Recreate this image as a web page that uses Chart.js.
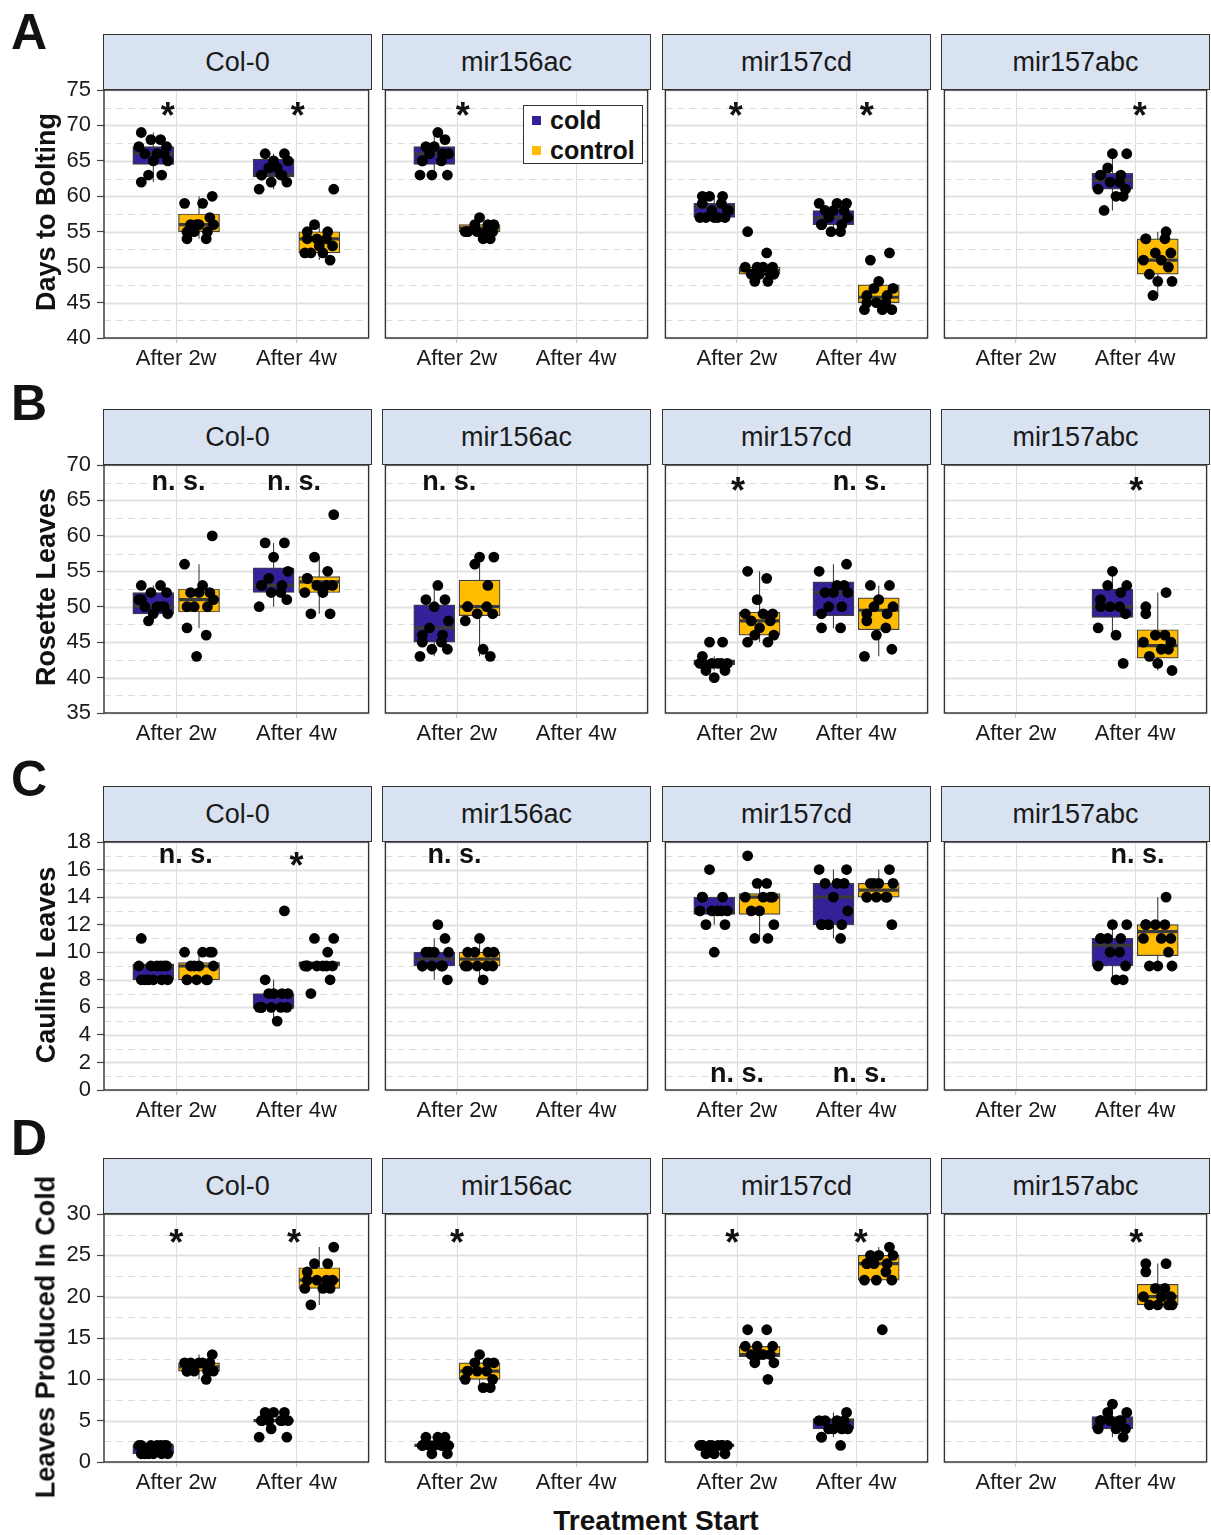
<!DOCTYPE html>
<html>
<head>
<meta charset="utf-8">
<script src="https://cdn.jsdelivr.net/npm/chart.js@4.4.0/dist/chart.umd.min.js"></script>
<style>
  body { margin: 0; background: #fff; font-family: "Liberation Sans", Arial, sans-serif; color: #111; }
  #fig { position: relative; width: 1211px; height: 1535px; overflow: hidden; background: #fff; }
  canvas { position: absolute; }
  .strip { position: absolute; box-sizing: border-box; height: 56px; background: #d9e2f1; border: 1.5px solid #333;
           font-size: 27px; color: #1a1a1a; display: flex; align-items: center; justify-content: center; }
  .letter { position: absolute; left: 11px; font-weight: bold; font-size: 50px; line-height: 50px; }
  .ytitle { position: absolute; font-weight: bold; font-size: 27px; line-height: 27px; white-space: nowrap;
            transform: translate(-50%, -50%) rotate(-90deg); }
  #xtitle { position: absolute; left: 656px; top: 1507px; transform: translateX(-50%); font-weight: bold;
            font-size: 28px; line-height: 28px; white-space: nowrap; }
  #legend { position: absolute; left: 523px; top: 105px; width: 120px; height: 59px; box-sizing: border-box;
            border: 1.5px solid #333; background: #fff; }
  .li { position: absolute; left: 8px; height: 28px; line-height: 28px; font-weight: bold; font-size: 25px;
        display: flex; align-items: center; }
  .sw { display: inline-block; width: 9px; height: 9px; margin-right: 9px; }
</style>
</head>
<body>
<div id="fig"></div>
<script>
// ---- data ----
const genotypes = ['Col-0', 'mir156ac', 'mir157cd', 'mir157abc'];
const timeLabels = ['After 2w', 'After 4w'];
const treatments = ['cold', 'control'];
// box slots: cold 2w, control 2w, cold 4w, control 4w
const groupX = [0.81, 1.19, 1.81, 2.19];
const groupTreatment = [0, 1, 0, 1];
const jitter = [-0.1, 0.06, -0.02, 0.11, -0.12, 0.03, 0.09, -0.07, 0.0, 0.12, -0.04, 0.07, -0.1];

// A: days to bolting
const boltingPoints = [
  [[69, 68, 68, 67, 67, 66, 66, 66, 65, 65, 63, 63, 62], [60, 59, 59, 57, 56, 56, 56, 55, 55, 55, 54, 54, 56],
   [66, 66, 65, 65, 64, 63, 63, 63, 63, 62, 62, 61, 64], [61, 56, 55, 55, 54, 54, 54, 53, 52, 52, 51, 52, 53]],
  [[69, 68, 67, 67, 66, 66, 66, 65, 65, 65, 63, 63, 63], [57, 56, 56, 56, 55, 55, 55, 55, 55, 55, 54, 54], null, null],
  [[60, 60, 60, 59, 59, 58, 58, 57, 57, 57, 57, 57, 58], [55, 52, 50, 50, 50, 50, 49, 49, 49, 49, 48, 48],
   [59, 59, 59, 58, 58, 58, 57, 57, 56, 56, 56, 55, 55], [52, 51, 48, 47, 47, 46, 46, 45, 45, 45, 44, 44, 44]],
  [null, null, [66, 66, 64, 63, 63, 63, 62, 62, 61, 61, 60, 60, 58], [55, 54, 54, 54, 52, 52, 51, 51, 50, 49, 48, 48, 46]]
];
// [whisker low, q1, median, q3, whisker high]
const boltingBoxes = [
  [[62, 64.5, 66, 67, 69], [54, 55, 56, 57.5, 60], [61, 62.75, 63, 65.25, 66], [51, 52, 54, 55, 56]],
  [[63, 64.5, 66, 67, 69], [54, 55, 55.5, 56, 57], null, null],
  [[57, 57, 58.5, 59, 60], [48, 49, 49.5, 50, 50], [55, 56, 57, 58, 59], [44, 45, 45.75, 47.5, 48]],
  [null, null, [58, 61, 62.25, 63.25, 66], [46, 49, 51, 54, 55]]
];
const boltingNotes = [[0, 0.93, 72.5, '*'], [0, 2.01, 72.5, '*'], [1, 1.05, 72.5, '*'],
  [2, 0.99, 72.5, '*'], [2, 2.09, 72.5, '*'], [3, 2.04, 72.5, '*']];

// B: rosette leaves
const rosettePoints = [
  [[53, 53, 52, 52, 51, 50, 50, 50, 49, 49, 48, 50, 51], [60, 56, 53, 52, 52, 52, 51, 50, 50, 50, 47, 46, 43],
   [59, 59, 57, 55, 54, 53, 53, 53, 52, 52, 51, 50], [63, 57, 55, 54, 54, 53, 53, 53, 52, 52, 49, 49]],
  [[53, 51, 51, 50, 48, 47, 46, 46, 45, 45, 44, 44, 43], [57, 57, 56, 53, 50, 50, 50, 49, 49, 48, 44, 43], null, null],
  [[45, 45, 43, 42, 42, 42, 42, 42, 42, 41, 41, 40], [55, 54, 51, 49, 49, 49, 48, 48, 47, 46, 46, 45, 45],
   [56, 55, 53, 53, 52, 52, 52, 50, 50, 49, 47, 47], [53, 53, 51, 50, 50, 49, 49, 48, 47, 46, 44, 43]],
  [null, null, [55, 53, 53, 52, 51, 50, 50, 50, 49, 47, 46, 42], [52, 50, 49, 46, 46, 45, 45, 44, 44, 43, 42, 41]]
];
const rosetteBoxes = [
  [[48, 49, 50, 52, 53], [47, 49.25, 51, 52.5, 56], [50, 52, 53, 55.5, 59], [49, 52, 53.5, 54.25, 57]],
  [[43, 45, 47, 50.25, 53], [43, 48.75, 50, 53.75, 57], null, null],
  [[41, 41.8, 42.1, 42.5, 43], [45, 46, 48, 49.25, 55], [47, 48.75, 52, 53.5, 56], [43, 46.75, 49.5, 51.25, 53]],
  [null, null, [46, 48.5, 50, 52.5, 55], [41, 42.75, 44.5, 46.75, 52]]
];
const rosetteNotes = [[0, 1.02, 67.5, 'n. s.'], [0, 1.98, 67.5, 'n. s.'], [1, 0.935, 67.5, 'n. s.'],
  [2, 1.01, 67.5, '*'], [2, 2.03, 67.5, 'n. s.'], [3, 2.01, 67.5, '*']];

// C: cauline leaves
const caulinePoints = [
  [[11, 9, 9, 9, 9, 9, 9, 8, 8, 8, 8, 8, 8], [10, 10, 10, 10, 9, 9, 9, 9, 8, 8, 8, 8, 8],
   [13, 8, 7, 7, 7, 7, 6, 6, 6, 6, 6, 6, 5], [11, 11, 10, 9, 9, 9, 9, 9, 9, 9, 8, 7]],
  [[12, 11, 10, 10, 10, 10, 9, 9, 9, 9, 9, 8], [11, 10, 10, 10, 10, 9, 9, 9, 9, 9, 8], null, null],
  [[16, 14, 14, 14, 13, 13, 13, 13, 13, 12, 12, 10], [17, 15, 15, 14, 14, 14, 14, 13, 13, 12, 11, 11],
   [16, 16, 15, 15, 15, 14, 13, 12, 12, 12, 12, 11], [16, 15, 15, 15, 15, 14, 14, 14, 14, 14, 12]],
  [null, null, [12, 12, 11, 11, 11, 11, 10, 10, 9, 9, 8, 8], [14, 12, 12, 12, 12, 11, 11, 11, 10, 9, 9, 9]]
];
const caulineBoxes = [
  [[8, 8, 9, 9.15, 9.15], [8, 8, 9, 9.25, 10], [5, 6, 6, 7, 8], [9, 9, 9.2, 9.3, 9.3]],
  [[8, 9, 9.5, 10, 11], [8, 9, 9.5, 10, 11], null, null],
  [[12, 12.75, 13, 14, 14], [11, 12.75, 14, 14.25, 15], [11, 12, 14, 15, 16], [14, 14, 14.5, 15, 16]],
  [null, null, [8, 9, 10.5, 11, 12], [9, 9.75, 11.5, 12, 14]]
];
const caulineNotes = [[0, 1.08, 17, 'n. s.'], [0, 2.0, 16.9, '*'], [1, 0.98, 17, 'n. s.'],
  [2, 1.0, 1.1, 'n. s.'], [2, 2.03, 1.1, 'n. s.'], [3, 2.02, 17, 'n. s.']];

// D: leaves produced in cold
const coldLeavesPoints = [
  [[2, 2, 2, 2, 2, 2, 2, 1, 1, 1, 1, 1, 1], [13, 12, 12, 12, 12, 12, 11, 11, 11, 11, 11, 10],
   [6, 6, 6, 5, 5, 5, 5, 5, 5, 4, 3, 3], [26, 24, 24, 23, 22, 22, 22, 22, 21, 21, 21, 19]],
  [[3, 3, 3, 2, 2, 2, 2, 2, 2, 2, 1, 1], [13, 12, 12, 12, 11, 11, 11, 11, 10, 10, 9, 9], null, null],
  [[2, 2, 2, 2, 2, 2, 2, 2, 2, 1, 1, 1], [16, 16, 14, 14, 14, 13, 13, 13, 13, 12, 12, 10],
   [6, 5, 5, 5, 5, 4, 4, 4, 4, 3, 3, 2], [26, 25, 25, 25, 24, 24, 24, 24, 23, 22, 22, 22, 16]],
  [null, null, [7, 6, 6, 5, 5, 5, 5, 5, 4, 4, 4, 3], [24, 24, 23, 21, 21, 20, 20, 20, 19, 19, 19, 19]]
];
const coldLeavesBoxes = [
  [[1, 1, 2, 2, 2], [10, 11, 11.5, 12, 13], [5, 5, 5, 5, 5], [19, 21, 22, 23.5, 26]],
  [[2, 2, 2, 2, 2], [9, 10, 11, 12, 13], null, null],
  [[2, 2, 2, 2, 2], [12, 12.75, 13, 14, 14], [3, 4, 5, 5.25, 6], [22, 22, 24, 25, 26]],
  [null, null, [3, 4, 5, 5.5, 7], [19, 19, 20, 21.5, 24]]
];
const coldLeavesNotes = [[0, 1.0, 27.5, '*'], [0, 1.98, 27.5, '*'], [1, 1.0, 27.5, '*'],
  [2, 0.96, 27.5, '*'], [2, 2.04, 27.5, '*'], [3, 2.01, 27.5, '*']];

// ---- layout ----
const COL_LEFT = [104, 383, 663, 942];
const PLOT_W = 267, PLOT_H = 248, X_AXIS_H = 40, PAD = 3, PAD_TOP = 16, Y_AXIS_W = 70;
const BOX_HALF = 0.167;
const treatmentColors = ['#322198', '#ffbc00'];

const rows = [
  { letter: 'A', letterTop: 7, title: 'Days to Bolting', titleY: 212, top: 90, min: 40, max: 75, step: 5, minorStep: 2.5,
    points: boltingPoints, boxes: boltingBoxes, notes: boltingNotes },
  { letter: 'B', letterTop: 378, title: 'Rosette Leaves', titleY: 587, top: 465, min: 35, max: 70, step: 5, minorStep: 2.5,
    points: rosettePoints, boxes: rosetteBoxes, notes: rosetteNotes },
  { letter: 'C', letterTop: 754, title: 'Cauline Leaves', titleY: 965, top: 842, min: 0, max: 18, step: 2, minorStep: 1,
    points: caulinePoints, boxes: caulineBoxes, notes: caulineNotes },
  { letter: 'D', letterTop: 1113, title: 'Leaves Produced In Cold', titleY: 1337, top: 1214, min: 0, max: 30, step: 5, minorStep: 2.5,
    points: coldLeavesPoints, boxes: coldLeavesBoxes, notes: coldLeavesNotes }
];

Chart.defaults.font.family = '"Liberation Sans", Arial, sans-serif';
Chart.defaults.color = '#1a1a1a';

const panelDecor = {
  id: 'panelDecor',
  beforeDatasetsDraw(chart, args, o) {
    const { ctx, chartArea: a, scales: { x, y } } = chart;
    ctx.save();
    const hline = (v) => {
      const py = Math.round(y.getPixelForValue(v)) + 0.5;
      ctx.beginPath(); ctx.moveTo(a.left, py); ctx.lineTo(a.right, py); ctx.stroke();
    };
    ctx.strokeStyle = '#dcdcdc'; ctx.lineWidth = 1.2; ctx.setLineDash([7, 5]);
    o.minor.forEach(hline);
    ctx.setLineDash([]); ctx.strokeStyle = '#e2e2e2'; ctx.lineWidth = 1.8;
    o.major.forEach(hline);
    ctx.strokeStyle = '#dedede'; ctx.lineWidth = 1.2;
    [1, 2].forEach(v => {
      const px = Math.round(x.getPixelForValue(v)) + 0.5;
      ctx.beginPath(); ctx.moveTo(px, a.top); ctx.lineTo(px, a.bottom); ctx.stroke();
    });
    ctx.restore();
  },
  afterDatasetsDraw(chart, args, o) {
    const { ctx, chartArea: a, scales: { x, y } } = chart;
    ctx.save();
    ctx.fillStyle = '#111';
    ctx.textAlign = 'center';
    ctx.textBaseline = 'alphabetic';
    o.notes.forEach(n => {
      const star = n.text === '*';
      const size = star ? 36 : 27;
      ctx.font = 'bold ' + size + 'px "Liberation Sans", Arial, sans-serif';
      ctx.fillText(n.text, x.getPixelForValue(n.x), y.getPixelForValue(n.y) + (star ? 0.57 : 0.26) * size);
    });
    ctx.strokeStyle = '#333';
    ctx.lineWidth = 1.4;
    ctx.strokeRect(a.left, a.top, a.right - a.left, a.bottom - a.top);
    ctx.restore();
  }
};

const fig = document.getElementById('fig');

function addDiv(cls, text, style) {
  const d = document.createElement('div');
  d.className = cls;
  d.textContent = text;
  Object.assign(d.style, style);
  fig.appendChild(d);
  return d;
}

function makePanel(row, gi) {
  const first = gi === 0;
  const yW = first ? Y_AXIS_W : 0;
  const w = PAD + yW + PLOT_W + PAD;
  const h = PAD_TOP + PLOT_H + X_AXIS_H;
  const cv = document.createElement('canvas');
  cv.width = w; cv.height = h;
  cv.style.width = w + 'px'; cv.style.height = h + 'px';
  cv.style.left = (COL_LEFT[gi] - PAD - yW) + 'px';
  cv.style.top = (row.top - PAD_TOP) + 'px';
  fig.appendChild(cv);

  const bars = [], fills = [], whisk = [], meds = [], dots = [];
  row.boxes[gi].forEach((b, g) => {
    if (!b) return;
    const cx = groupX[g];
    bars.push({ x: cx, y: [b[1], b[3]] });
    fills.push(treatmentColors[groupTreatment[g]]);
    whisk.push({ x: cx, y: b[0] }, { x: cx, y: b[4] }, { x: cx, y: null });
    meds.push({ x: cx - BOX_HALF, y: b[2] }, { x: cx + BOX_HALF, y: b[2] }, { x: cx, y: null });
    row.points[gi][g].forEach((v, k) => {
      dots.push({ x: cx + jitter[(k + 3 * g + 5 * gi) % jitter.length], y: v });
    });
  });

  const major = [], minor = [];
  for (let v = row.min; v <= row.max + 1e-9; v += row.minorStep) {
    const isMajor = Math.abs((v - row.min) / row.step - Math.round((v - row.min) / row.step)) < 1e-6;
    (isMajor ? major : minor).push(v);
  }

  new Chart(cv, {
    type: 'scatter',
    data: {
      datasets: [
        { type: 'scatter', data: dots, pointRadius: 5.4, pointBackgroundColor: '#000', pointBorderWidth: 0, order: 0 },
        { type: 'line', data: meds, borderColor: '#3a3a3a', borderWidth: 3.2, pointRadius: 0, spanGaps: false, order: 1 },
        { type: 'bar', data: bars, backgroundColor: fills, borderColor: '#404040', borderWidth: 1.2,
          borderSkipped: false, barThickness: 41, grouped: false, order: 2 },
        { type: 'line', data: whisk, borderColor: '#404040', borderWidth: 1.1, pointRadius: 0, spanGaps: false, order: 3 }
      ]
    },
    options: {
      responsive: false,
      animation: false,
      events: [],
      layout: { padding: { top: PAD_TOP, right: PAD, bottom: 0, left: PAD } },
      plugins: {
        legend: { display: false },
        tooltip: { enabled: false },
        panelDecor: {
          major: major, minor: minor,
          notes: row.notes.filter(n => n[0] === gi).map(n => ({ x: n[1], y: n[2], text: n[3] }))
        }
      },
      scales: {
        x: {
          type: 'linear', min: 0.4, max: 2.6, offset: false, bounds: 'data',
          afterBuildTicks: (s) => { s.ticks = [{ value: 1 }, { value: 2 }]; },
          afterFit: (s) => { s.height = X_AXIS_H; s.paddingLeft = 0; s.paddingRight = 0; },
          ticks: { callback: (v) => timeLabels[Math.round(v) - 1], font: { size: 22 }, color: '#1a1a1a',
                   padding: 3, maxRotation: 0, autoSkip: false },
          grid: { offset: false, drawOnChartArea: false, drawTicks: true, tickLength: 5, tickColor: '#c4c4c4', tickWidth: 1.2 },
          border: { display: false }
        },
        y: {
          type: 'linear', min: row.min, max: row.max, display: first, beginAtZero: false,
          afterFit: (s) => { s.width = yW; s.paddingTop = 0; s.paddingBottom = 0; },
          ticks: { stepSize: row.step, autoSkip: false, font: { size: 22 }, color: '#1a1a1a', padding: 6 },
          grid: { drawOnChartArea: false, drawTicks: true, tickLength: 7, tickColor: '#444', tickWidth: 1.2 },
          border: { display: false }
        }
      }
    },
    plugins: [panelDecor]
  });

  addDiv('strip', genotypes[gi], { left: (COL_LEFT[gi] - 1) + 'px', top: (row.top - 56) + 'px', width: (PLOT_W + 2) + 'px' });
}

rows.forEach(row => {
  for (let gi = 0; gi < genotypes.length; gi++) makePanel(row, gi);
  addDiv('letter', row.letter, { top: row.letterTop + 'px' });
  addDiv('ytitle', row.title, { left: '46px', top: row.titleY + 'px' });
});

addDiv('', 'Treatment Start', {}).id = 'xtitle';

const legend = addDiv('', '', {});
legend.id = 'legend';
treatments.forEach((t, i) => {
  const item = document.createElement('div');
  item.className = 'li';
  item.style.top = (i === 0 ? 0 : 30) + 'px';
  const sw = document.createElement('span');
  sw.className = 'sw';
  sw.style.background = treatmentColors[i];
  item.appendChild(sw);
  item.appendChild(document.createTextNode(t));
  legend.appendChild(item);
});
</script>
</body>
</html>
